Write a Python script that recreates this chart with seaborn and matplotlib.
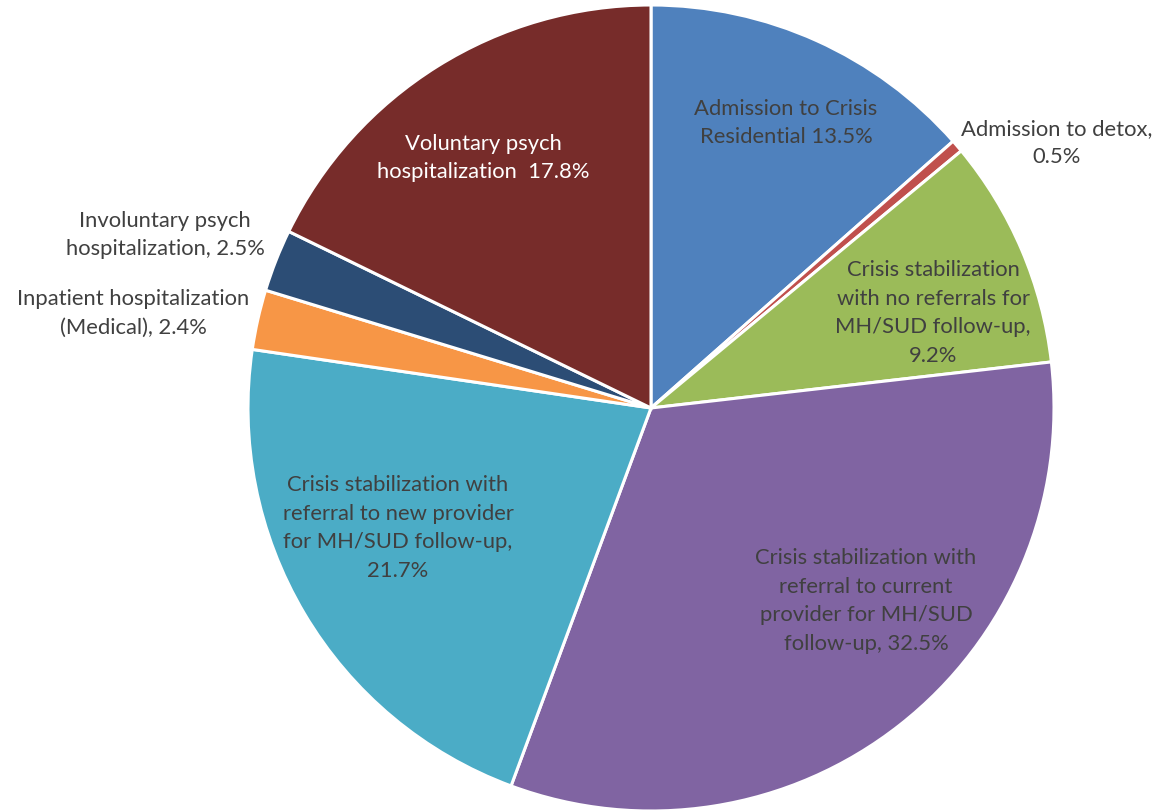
import matplotlib
matplotlib.use("Agg")
import matplotlib.pyplot as plt
import seaborn as sns

sns.set_theme(style="white")
plt.rcParams["font.family"] = ["Lato", "DejaVu Sans"]

categories = [
    "Admission to Crisis\nResidential",
    "Admission to detox,",
    "Crisis stabilization\nwith no referrals for\nMH/SUD follow-up,",
    "Crisis stabilization with\nreferral to current\nprovider for MH/SUD\nfollow-up,",
    "Crisis stabilization with\nreferral to new provider\nfor MH/SUD follow-up,",
    "Inpatient hospitalization\n(Medical),",
    "Involuntary psych\nhospitalization,",
    "Voluntary psych\nhospitalization ",
]
values = [13.5, 0.5, 9.2, 32.5, 21.7, 2.4, 2.5, 17.8]
colors = ["#4F81BD", "#C0504D", "#9BBB59", "#8064A2",
          "#4BACC6", "#F79646", "#2C4D75", "#772C2A"]
value_joiners = [" ", "\n", "\n", " ", "\n", " ", " ", " "]
text_colors = ["#404040"] * 7 + ["#FFFFFF"]

# label centres in pixel coordinates (x from left, y from top)
label_px = [(786, 123), (1057, 143), (933, 313), (866, 601),
            (398, 528), (133, 313), (165, 235), (483, 158)]

W, H = 1175, 812
cx, cy, R = 651, 409, 403

fig = plt.figure(figsize=(W / 100, H / 100), dpi=100)
ax = fig.add_axes([0, 0, 1, 1])
ax.pie(values, colors=colors, startangle=90, counterclock=False,
       radius=R, center=(0, 0),
       wedgeprops=dict(edgecolor="white", linewidth=2.2))
ax.set_xlim(-cx, W - cx)
ax.set_ylim(-(H - cy), cy)
ax.set_aspect("equal")
ax.axis("off")

for cat, val, j, tc, (px, py) in zip(categories, values, value_joiners,
                                      text_colors, label_px):
    ax.text(px - cx, cy - py, f"{cat}{j}{val:.1f}%", ha="center", va="center",
            color=tc, fontsize=15.8, linespacing=1.55, multialignment="center")

fig.savefig("out.png", dpi=100)
